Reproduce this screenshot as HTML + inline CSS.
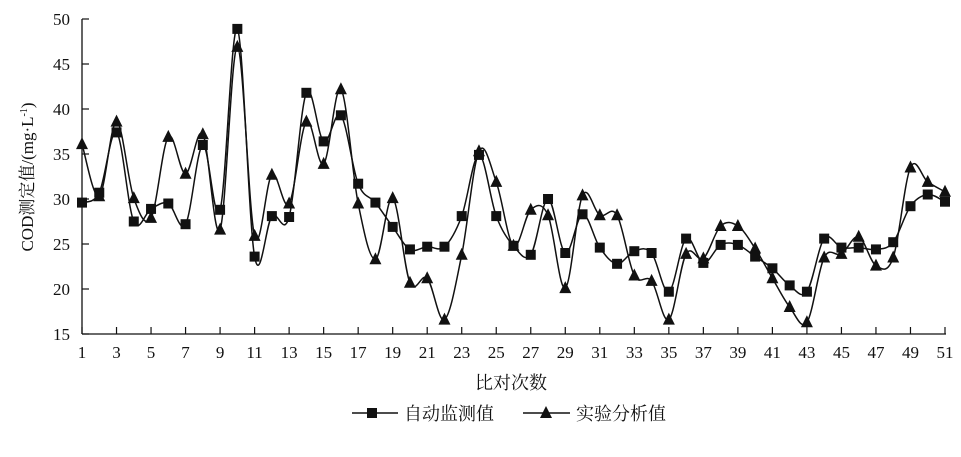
<!DOCTYPE html>
<html><head><meta charset="utf-8"><style>
html,body{margin:0;padding:0;background:#fff;}
svg text{font-family:"Liberation Serif","Noto Serif CJK SC","Noto Sans CJK SC",serif;fill:#111;}
</style></head><body>
<svg id="s" width="961" height="452" viewBox="0 0 961 452" xmlns="http://www.w3.org/2000/svg">
<g stroke="#111" stroke-width="1.3" fill="none">
<line x1="82" y1="19" x2="82" y2="334"/>
<line x1="82" y1="334" x2="946" y2="334"/>
</g>
<g id="ax"></g>
<text x="0" y="0" font-size="17" transform="translate(33,177) rotate(-90)" text-anchor="middle">COD测定值/(mg·L<tspan font-size="10" dy="-6">-1</tspan><tspan dy="6">)</tspan></text>
<text x="511" y="389" font-size="18" text-anchor="middle">比对次数</text>
<g stroke="#111" stroke-width="1.5"><line x1="352" y1="413" x2="398" y2="413"/><line x1="523" y1="413" x2="570" y2="413"/></g>
<rect x="367" y="408" width="10" height="10" fill="#111"/>
<polygon points="546,406 552,418 540,418" fill="#111"/>
<text x="404" y="420" font-size="18">自动监测值</text>
<text x="576" y="420" font-size="18">实验分析值</text>
<g id="data"></g>
</svg>
<script>
var sq=[29.6,30.7,37.4,27.5,28.9,29.5,27.2,36.0,28.8,48.9,23.6,28.1,28.0,41.8,36.4,39.3,31.7,29.6,26.9,24.4,24.7,24.7,28.1,34.9,28.1,24.8,23.8,30.0,24.0,28.3,24.6,22.8,24.2,24.0,19.7,25.6,22.9,24.9,24.9,23.6,22.3,20.4,19.7,25.6,24.6,24.6,24.4,25.2,29.2,30.5,29.7];
var tr=[36.1,30.3,38.6,30.1,27.9,36.9,32.8,37.2,26.6,46.9,25.9,32.7,29.5,38.6,33.9,42.2,29.5,23.3,30.1,20.7,21.2,16.6,23.8,35.3,31.9,24.8,28.8,28.2,20.1,30.4,28.2,28.2,21.5,20.9,16.6,23.9,23.4,27.0,27.0,24.5,21.2,18.0,16.3,23.5,23.9,25.8,22.6,23.5,33.5,31.9,30.8];
function X(i){return 82+i*17.26;}
function Y(v){return 334-(v-15)*9;}
var ns="http://www.w3.org/2000/svg",ax=document.getElementById('ax'),dg=document.getElementById('data');
function el(t,a,p){var e=document.createElementNS(ns,t);for(var k in a)e.setAttribute(k,a[k]);(p||dg).appendChild(e);return e;}
for(var v=15;v<=50;v+=5){var y=Y(v);el('line',{x1:82,y1:y,x2:89,y2:y,stroke:'#111','stroke-width':1.2},ax);var t=el('text',{x:70,y:y+6,'font-size':17,'text-anchor':'end'},ax);t.textContent=v;}
for(var i=0;i<51;i+=2){var x=X(i);el('line',{x1:x,y1:334,x2:x,y2:327,stroke:'#111','stroke-width':1.2},ax);var t=el('text',{x:x,y:358,'font-size':17,'text-anchor':'middle'},ax);t.textContent=i+1;}
function path(d){var p=d.map(function(v,i){return [X(i),Y(v)];});var s='M'+p[0][0]+','+p[0][1];
for(var i=0;i<p.length-1;i++){var p0=p[i-1]||p[i],p1=p[i],p2=p[i+1],p3=p[i+2]||p2;var t=0.17;
s+=' C'+(p1[0]+(p2[0]-p0[0])*t)+','+(p1[1]+(p2[1]-p0[1])*t)+' '+(p2[0]-(p3[0]-p1[0])*t)+','+(p2[1]-(p3[1]-p1[1])*t)+' '+p2[0]+','+p2[1];}
el('path',{d:s,fill:'none',stroke:'#111','stroke-width':1.5});return p;}
var ps=path(sq),pt=path(tr);
ps.forEach(function(q){el('rect',{x:q[0]-5,y:q[1]-5,width:10,height:10,fill:'#111'});});
pt.forEach(function(q){el('polygon',{points:(q[0])+','+(q[1]-7)+' '+(q[0]+6)+','+(q[1]+5)+' '+(q[0]-6)+','+(q[1]+5),fill:'#111'});});
</script>
</body></html>
